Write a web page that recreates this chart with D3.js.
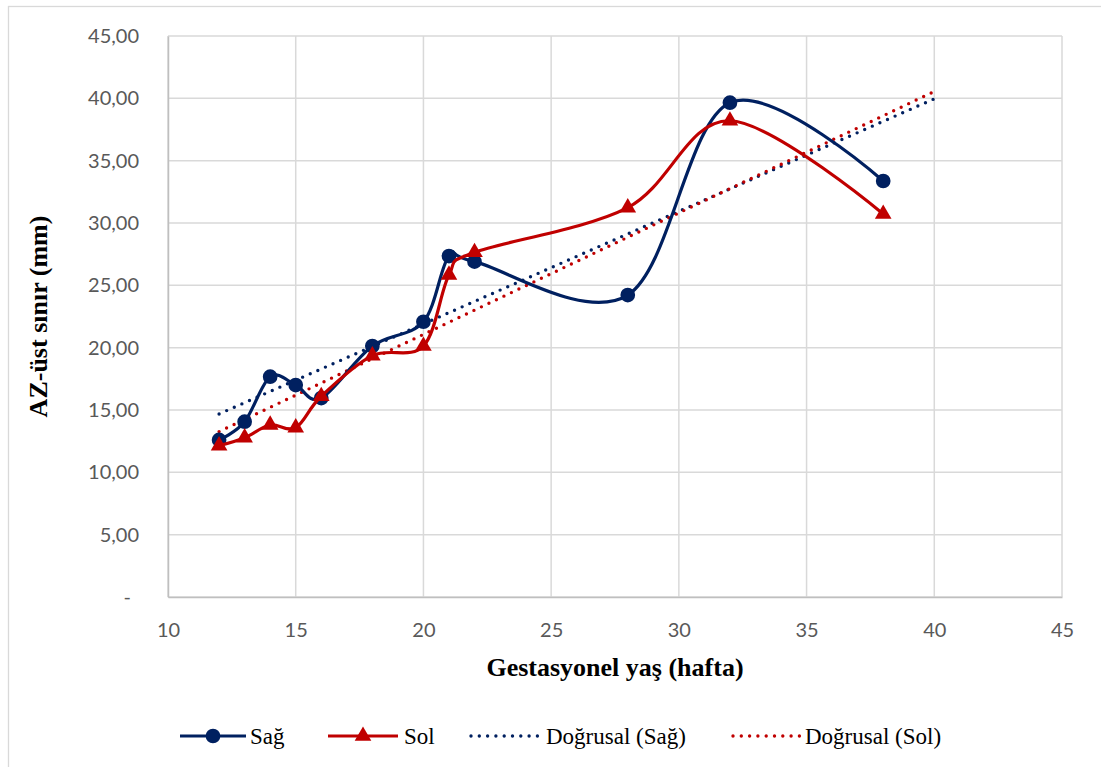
<!DOCTYPE html>
<html>
<head>
<meta charset="utf-8">
<script src="https://cdn.jsdelivr.net/npm/d3@7"></script>
<style>
  html, body { margin: 0; padding: 0; background: #fff; }
  svg { display: block; }
</style>
</head>
<body>
<svg id="chart" width="1101" height="767"></svg>
<script>
// Gestational age (weeks)
const weeks = [12, 13, 14, 15, 16, 18, 20, 21, 22, 28, 32, 38];
// AZ upper boundary (mm), right side
const sagValues = [12.60, 14.06, 17.67, 17.00, 15.96, 20.13, 22.08, 27.35, 26.90, 24.22, 39.65, 33.37];
// AZ upper boundary (mm), left side
const solValues = [12.14, 12.78, 13.80, 13.58, 16.10, 19.36, 20.13, 25.83, 27.65, 31.23, 38.20, 30.72];

const xTicks = [10, 15, 20, 25, 30, 35, 40, 45];
const yTicks = [0, 5, 10, 15, 20, 25, 30, 35, 40, 45];
const trendEnd = 40;

const legendLabels = ["Sağ", "Sol", "Doğrusal (Sağ)", "Doğrusal (Sol)"];

const NAVY = "#002060";
const RED = "#C00000";
const GRID = "#d9d9d9";
const TICK_TEXT = "#595959";

const svg = d3.select("#chart");

// outer chart frame
svg.append("rect")
  .attr("x", 8.5).attr("y", 6.5)
  .attr("width", 1120).attr("height", 800)
  .attr("fill", "#fff").attr("stroke", GRID).attr("stroke-width", 1.3);

const plot = { left: 168, right: 1062, top: 36, bottom: 597 };

const x = d3.scaleLinear().domain([10, 45]).range([plot.left, plot.right]);
const y = d3.scaleLinear().domain([0, 45]).range([plot.bottom, plot.top]);

// gridlines
const grid = svg.append("g");
grid.selectAll("line.h").data(yTicks).join("line")
  .attr("x1", plot.left).attr("x2", plot.right)
  .attr("y1", d => y(d)).attr("y2", d => y(d))
  .attr("stroke", GRID).attr("stroke-width", 1.5);
grid.selectAll("line.v").data(xTicks).join("line")
  .attr("y1", plot.top).attr("y2", plot.bottom)
  .attr("x1", d => x(d)).attr("x2", d => x(d))
  .attr("stroke", GRID).attr("stroke-width", 1.5);

// axes
const fmt = d => d === 0 ? "-" : d.toFixed(2).replace(".", ",");
const yAxis = d3.axisLeft(y).tickValues(yTicks).tickFormat(fmt).tickSize(0).tickPadding(29);
const xAxis = d3.axisBottom(x).tickValues(xTicks).tickFormat(d3.format("d")).tickSize(0).tickPadding(26);

const gy = svg.append("g").attr("transform", `translate(${plot.left},0)`).call(yAxis);
const gx = svg.append("g").attr("transform", `translate(0,${plot.bottom})`).call(xAxis);
[gx, gy].forEach(g => {
  g.select(".domain").attr("stroke", "#bfbfbf").attr("stroke-width", 1.5);
  g.selectAll("text")
    .attr("font-family", "Lato, 'Open Sans', sans-serif")
    .attr("font-size", 20)
    .attr("fill", TICK_TEXT);
});
gy.selectAll(".tick").filter(d => d === 0).select("text").attr("dx", -8);

// axis titles
svg.append("text")
  .attr("x", (plot.left + plot.right) / 2).attr("y", 676)
  .attr("text-anchor", "middle")
  .attr("font-family", "'Liberation Serif', 'Times New Roman', serif")
  .attr("font-weight", "bold").attr("font-size", 26)
  .text("Gestasyonel yaş (hafta)");

svg.append("text")
  .attr("transform", `translate(47,${(plot.top + plot.bottom) / 2}) rotate(-90)`)
  .attr("text-anchor", "middle")
  .attr("font-family", "'Liberation Serif', 'Times New Roman', serif")
  .attr("font-weight", "bold").attr("font-size", 26)
  .text("AZ-üst sınır (mm)");

// least-squares linear trend
function linearFit(xs, ys) {
  const mx = d3.mean(xs), my = d3.mean(ys);
  let sxy = 0, sxx = 0;
  xs.forEach((xi, i) => { sxy += (xi - mx) * (ys[i] - my); sxx += (xi - mx) ** 2; });
  const b = sxy / sxx;
  return { a: my - b * mx, b };
}

const series = [
  { name: "sag", values: sagValues, color: NAVY, marker: d3.symbolCircle, size: 170 },
  { name: "sol", values: solValues, color: RED, marker: d3.symbolTriangle, size: 120 }
];

// trendlines (drawn beneath the data series)
series.forEach(s => {
  const fit = linearFit(weeks, s.values);
  const x0 = d3.min(weeks);
  svg.append("line")
    .attr("x1", x(x0)).attr("y1", y(fit.a + fit.b * x0))
    .attr("x2", x(trendEnd)).attr("y2", y(fit.a + fit.b * trendEnd))
    .attr("stroke", s.color).attr("stroke-width", 3.4)
    .attr("stroke-linecap", "round").attr("stroke-dasharray", "0,8.3");
});

// smoothed series lines and markers
const line = d3.line().x(d => x(d[0])).y(d => y(d[1])).curve(d3.curveCatmullRom.alpha(0));
series.forEach(s => {
  const pts = weeks.map((w, i) => [w, s.values[i]]);
  const g = svg.append("g");
  g.append("path").attr("d", line(pts))
    .attr("fill", "none").attr("stroke", s.color).attr("stroke-width", 3.2);
  g.selectAll("path.m").data(pts).join("path")
    .attr("class", "m")
    .attr("d", d3.symbol().type(s.marker).size(s.size))
    .attr("transform", d => `translate(${x(d[0])},${y(d[1])})`)
    .attr("fill", s.color);
});

// legend
const legendY = 736;
const legendItems = [
  { label: legendLabels[0], color: NAVY, x0: 180, x1: 246, tx: 250, marker: d3.symbolCircle, size: 170, dotted: false },
  { label: legendLabels[1], color: RED, x0: 328, x1: 398, tx: 404, marker: d3.symbolTriangle, size: 120, dotted: false },
  { label: legendLabels[2], color: NAVY, x0: 471, x1: 541, tx: 546, marker: null, dotted: true },
  { label: legendLabels[3], color: RED, x0: 733, x1: 800, tx: 805, marker: null, dotted: true }
];
const lg = svg.append("g");
legendItems.forEach(it => {
  lg.append("line")
    .attr("x1", it.x0).attr("x2", it.x1).attr("y1", legendY).attr("y2", legendY)
    .attr("stroke", it.color)
    .attr("stroke-width", it.dotted ? 3.4 : 3.2)
    .attr("stroke-linecap", it.dotted ? "round" : "butt")
    .attr("stroke-dasharray", it.dotted ? "0,8.3" : null);
  if (it.marker) {
    lg.append("path")
      .attr("d", d3.symbol().type(it.marker).size(it.size))
      .attr("transform", `translate(${(it.x0 + it.x1) / 2},${legendY})`)
      .attr("fill", it.color);
  }
  lg.append("text")
    .attr("x", it.tx).attr("y", legendY + 8)
    .attr("font-family", "'Liberation Serif', 'Times New Roman', serif")
    .attr("font-size", 23)
    .text(it.label);
});
</script>
</body>
</html>
